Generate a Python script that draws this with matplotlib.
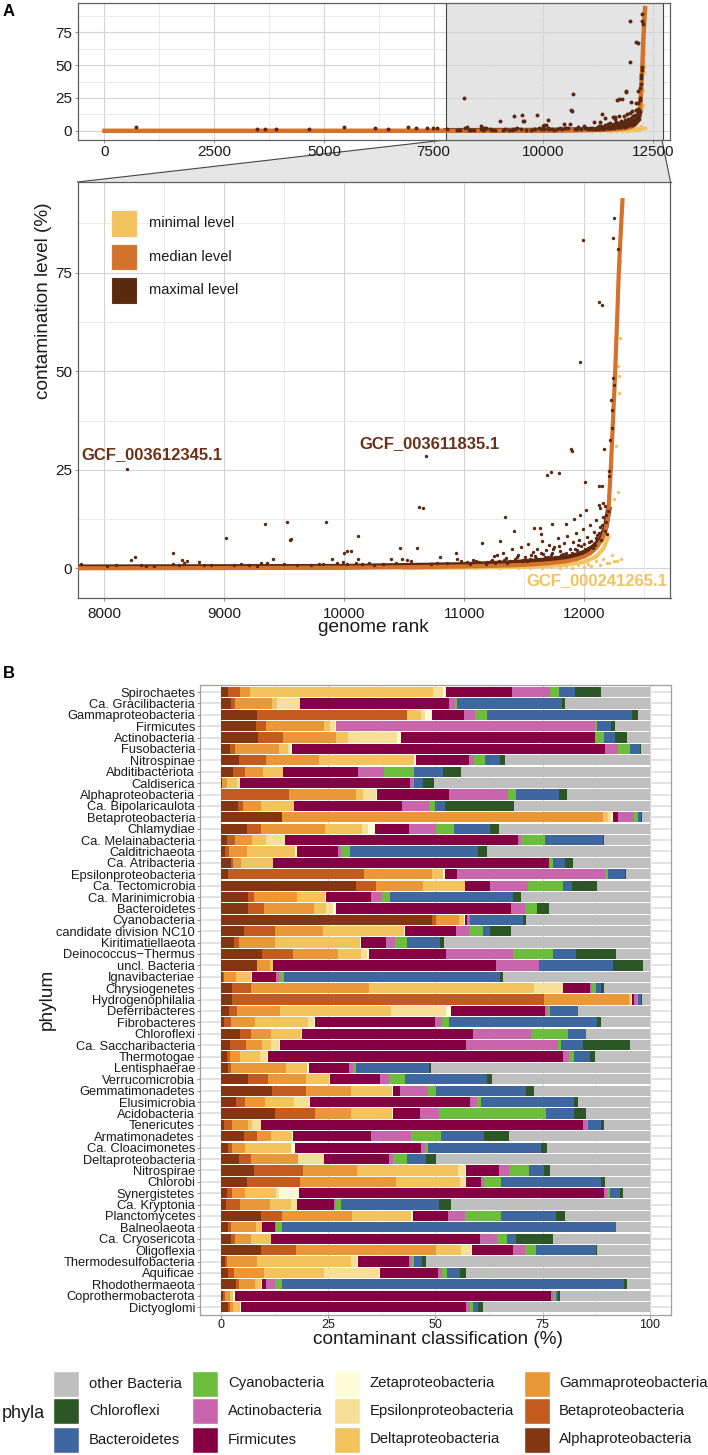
import numpy as np
import matplotlib
matplotlib.use("Agg")
import matplotlib.pyplot as plt
from matplotlib.patches import Rectangle, Polygon
from matplotlib.ticker import MultipleLocator

plt.rcParams['font.family'] = ['Liberation Sans', 'DejaVu Sans']

# ---------------- Panel A data ----------------
median_rank = [0, 5000, 8000, 9000, 10000, 10500, 11000, 11300, 11500, 11700, 11850,
               11950, 12000, 12050, 12100, 12150, 12180, 12200, 12222, 12240, 12259,
               12275, 12289, 12305, 12320]
median_val = [0.0, 0.02, 0.05, 0.1, 0.2, 0.3, 0.5, 0.7, 0.9, 1.3, 1.8,
              2.5, 3.0, 3.8, 5.2, 7.3, 9.8, 13.2, 25, 37, 50,
              63, 75, 85, 93.4]

# lower envelope of the dense maximal-level points
maxband_rank = [7780, 10000, 11000, 11400, 11700, 11900, 12000, 12080, 12140, 12180, 12205]
maxband_val = [0.3, 0.45, 0.9, 1.4, 2.1, 3.0, 4.0, 5.5, 7.5, 10.5, 15.0]
# upper envelope of the dense minimal-level points
minband_rank = [10500, 11000, 11500, 11800, 12000, 12100, 12160, 12200]
minband_val = [0.1, 0.2, 0.4, 0.8, 1.6, 3.0, 5.0, 8.0]

max_rank = [720, 3477, 3650, 3908, 4659, 5452, 6172, 6460, 6922, 7098, 7355, 7478, 7581,
            7806, 8028, 8097, 8189, 8228, 8256, 8306, 8347, 8417, 8570, 8575, 8625, 8650,
            8667, 8694, 8792, 8833, 8889, 9017, 9083, 9139, 9208, 9278, 9311, 9339, 9356,
            9406, 9495, 9522, 9547, 9555, 9611, 9722, 9792, 9820, 9850, 9903, 9944, 9992,
            9995, 10022, 10028, 10056, 10097, 10117, 10119, 10153, 10208, 10250, 10320,
            10389, 10431, 10467, 10486, 10528, 10561, 10606, 10628, 10661, 10681, 10722,
            10778, 10800, 10861, 10936, 10944, 10972, 11028, 11070, 11103, 11153, 11194,
            11236, 11278,
            11250, 11290, 11303, 11320, 11337, 11350, 11380, 11400, 11416, 11420, 11450,
            11470, 11490, 11510, 11530, 11550, 11570, 11586, 11590, 11610, 11620, 11631,
            11639, 11650, 11660, 11680, 11688, 11700, 11710, 11725, 11730, 11733, 11750,
            11760, 11780, 11789, 11800, 11810, 11830, 11845, 11850, 11860, 11880, 11887,
            11895, 11900, 11910, 11913, 11930, 11940, 11960, 11966, 11966, 11970, 11988,
            11990, 12000, 12007, 12018, 12020, 12030, 12050, 12060, 12080, 12090, 12100,
            12110, 12120, 12120, 12120, 12130, 12135, 12140, 12150, 12150, 12158, 12160,
            12165, 12170, 12176, 12180, 12190, 12200, 12205, 12206, 12214, 12222, 12233,
            12234, 12240, 12244, 12251, 12252, 12282,
            11050, 11120, 11180, 11220, 11260, 11330, 11360, 11440, 11480, 11520, 11560,
            11600, 11640, 11670, 11720, 11740, 11770, 11790, 11820, 11870, 11920, 11950,
            11980, 12010, 12040, 12070, 12095, 12125, 12145, 12185]
max_val = [2.6, 1.0, 1.2, 1.1, 1.2, 3.0, 1.8, 1.2, 3.0, 2.0, 2.2, 2.4, 2.3,
           1.0, 0.7, 0.8, 25.2, 2.1, 3.0, 0.85, 0.7, 0.7, 1.1, 3.8, 0.85, 2.1,
           1.3, 1.9, 1.7, 0.8, 0.8, 7.6, 0.85, 1.2, 0.9, 0.7, 1.5, 11.3, 1.3,
           2.3, 1.1, 11.7, 7.3, 7.5, 0.8, 0.8, 1.2, 1.0, 11.9, 2.5, 1.3, 1.7,
           3.9, 4.4, 1.2, 4.4, 1.4, 8.3, 2.5, 1.0, 1.3, 0.85, 1.0,
           2.5, 1.3, 5.1, 2.5, 2.1, 1.9, 5.2, 15.7, 15.2, 28.4, 1.0,
           1.4, 3.0, 1.3, 3.8, 2.3, 1.9, 1.7, 2.1, 1.9, 6.5, 1.7,
           2.1, 3.4,
           3.2, 2.0, 7.0, 4.0, 13.0, 2.6, 1.8, 4.8, 9.4, 2.3, 3.4,
           5.5, 2.1, 3.0, 6.3, 2.5, 4.2, 10.3, 3.1, 5.0, 2.4, 10.3,
           8.7, 7.0, 3.6, 4.6, 23.6, 2.8, 6.0, 24.4, 3.9, 11.3, 5.4,
           3.0, 7.6, 24.1, 4.3, 3.3, 6.5, 11.3, 4.0, 8.2, 5.0, 30.3,
           29.7, 3.8, 6.8, 12.5, 9.0, 4.6, 7.3, 13.6, 52.3, 5.6, 83.3,
           10.1, 6.2, 21.9, 14.7, 8.0, 4.8, 11.0, 7.0, 9.3, 6.0, 12.2,
           8.4, 67.6, 21.0, 16.2, 10.4, 15.4, 7.3, 66.7, 21.0, 16.7, 13.0,
           30.2, 9.6, 15.9, 11.8, 8.8, 14.5, 23.4, 24.6, 32.5, 42.6, 40.2,
           35.7, 83.7, 48.4, 46.6, 88.8, 81.0,
           1.2, 1.6, 1.0, 1.8, 1.3, 2.2, 1.5, 2.8, 1.9, 2.0, 3.4,
           2.7, 4.0, 2.9, 3.5, 4.8, 2.6, 5.6, 3.6, 3.2, 4.9, 6.0,
           4.2, 5.0, 6.6, 5.3, 7.8, 9.0, 11.0, 13.5]

min_rank = [11100, 11300, 11450, 11550, 11650, 11720, 11800, 11850, 11900, 11950, 12000,
            12030, 12060, 12100, 12130, 12160, 12190, 12207, 12230, 12250, 12270, 12308,
            12252, 12282, 12262, 12290, 12290, 12282, 12297, 12297, 12308]
min_val = [0.1, 0.0, 0.2, 0.0, 0.1, 0.3, 0.0, 0.5, 0.2, 0.8, 0.4,
           1.2, 0.6, 1.8, 0.9, 2.5, 1.4, 1.5, 3.5, 1.8, 2.0, 2.4,
           17.7, 19.4, 31.0, 44.4, 48.8, 51.3, 58.5, 78.0, 85.0]

genome_labels = ['GCF_003612345.1', 'GCF_003611835.1', 'GCF_000241265.1']
label_rank = [8400, 10709, 12105]
label_val = [28.9, 31.6, -3.1]

# ---------------- Panel B data ----------------
phyla = ['Spirochaetes', 'Ca. Gracilibacteria', 'Gammaproteobacteria', 'Firmicutes',
         'Actinobacteria', 'Fusobacteria', 'Nitrospinae', 'Abditibacteriota', 'Caldiserica',
         'Alphaproteobacteria', 'Ca. Bipolaricaulota', 'Betaproteobacteria', 'Chlamydiae',
         'Ca. Melainabacteria', 'Calditrichaeota', 'Ca. Atribacteria', 'Epsilonproteobacteria',
         'Ca. Tectomicrobia', 'Ca. Marinimicrobia', 'Bacteroidetes', 'Cyanobacteria',
         'candidate division NC10', 'Kiritimatiellaeota', 'Deinococcus\u2212Thermus',
         'uncl. Bacteria', 'Ignavibacteriae', 'Chrysiogenetes', 'Hydrogenophilalia',
         'Deferribacteres', 'Fibrobacteres', 'Chloroflexi', 'Ca. Saccharibacteria',
         'Thermotogae', 'Lentisphaerae', 'Verrucomicrobia', 'Gemmatimonadetes',
         'Elusimicrobia', 'Acidobacteria', 'Tenericutes', 'Armatimonadetes',
         'Ca. Cloacimonetes', 'Deltaproteobacteria', 'Nitrospirae', 'Chlorobi',
         'Synergistetes', 'Ca. Kryptonia', 'Planctomycetes', 'Balneolaeota',
         'Ca. Cryosericota', 'Oligoflexia', 'Thermodesulfobacteria', 'Aquificae',
         'Rhodothermaeota', 'Coprothermobacterota', 'Dictyoglomi']

classes = ['Alphaproteobacteria', 'Betaproteobacteria', 'Gammaproteobacteria',
           'Deltaproteobacteria', 'Epsilonproteobacteria', 'Zetaproteobacteria',
           'Firmicutes', 'Actinobacteria', 'Cyanobacteria', 'Bacteroidetes',
           'Chloroflexi', 'other Bacteria']
class_colors = ['#843511', '#c25b1d', '#ea9738', '#f3c35e', '#f7df97', '#fffcd5',
                '#840043', '#c965ac', '#6cbd3c', '#3f679f', '#2d5626', '#bfbfbf']

# cumulative share (%) at the right end of each class segment, per phylum (top to bottom)
edge_alpha = [1.7, 2.3, 8.4, 8.2, 8.6, 2.1, 4.2, 2.7, 0.3, 0, 4.0, 14.1, 6.1, 1.3, 0.9, 2.4,
              1.6, 31.5, 6.2, 6.3, 49.1, 5.4, 3.0, 9.6, 8.3, 0.4, 2.5, 2.5, 1.9, 0.8, 4.5,
              2.0, 1.3, 1.6, 6.2, 11.9, 3.6, 12.6, 0.6, 5.3, 1.6, 4.1, 7.6, 6.0, 1.4, 1.2,
              9.4, 1.7, 2.4, 9.4, 0.9, 1.7, 3.5, 0.5, 1.7]
edge_beta = [4.4, 3.3, 43.3, 10.5, 14.5, 3.3, 10.4, 5.7, 0.3, 15.9, 5.2, 14.1, 9.4, 3.3,
             1.8, 2.9, 33.4, 36.1, 7.6, 9.9, 50.2, 12.5, 4.1, 16.7, 8.3, 0.8, 7.0, 75.3,
             3.8, 2.3, 6.9, 5.8, 2.2, 2.4, 11.0, 19.7, 5.5, 22.0, 2.5, 8.3, 2.6, 6.9,
             19.1, 18.4, 2.6, 4.5, 14.1, 2.4, 3.3, 17.4, 1.5, 3.0, 4.3, 0.9, 2.0]
edge_gamma = [6.7, 11.8, 43.3, 24.0, 26.8, 13.6, 22.9, 9.8, 1.5, 31.4, 9.4, 89.0, 24.2,
              7.2, 6.1, 4.6, 49.1, 47.1, 17.8, 21.6, 55.5, 23.8, 12.5, 27.2, 11.5, 3.5,
              34.5, 95.0, 13.8, 7.8, 11.7, 9.6, 4.5, 15.2, 19.8, 30.2, 10.3, 30.3, 6.4,
              11.7, 5.7, 18.0, 31.8, 40.8, 5.7, 11.4, 30.6, 8.2, 7.0, 50.2, 8.3, 10.1,
              8.0, 2.1, 2.8]
edge_delta = [49.5, 13.1, 46.7, 25.4, 29.7, 15.6, 45.1, 14.4, 3.7, 33.1, 17.0, 90.3, 32.8,
              10.5, 17.2, 12.2, 51.7, 56.9, 24.3, 24.5, 56.6, 42.7, 32.4, 32.7, 12.0, 6.9,
              72.9, 95.6, 39.6, 20.2, 18.6, 11.7, 9.1, 20.1, 25.1, 39.9, 17.0, 39.9, 7.2,
              16.6, 16.2, 18.0, 55.2, 55.7, 12.8, 16.2, 44.2, 9.5, 11.6, 56.0, 30.2, 24.1,
              9.3, 2.8, 4.5]
edge_eps = [51.8, 18.4, 47.6, 26.5, 41.0, 16.1, 45.1, 14.4, 4.5, 36.2, 17.0, 90.9, 34.3,
            14.8, 17.2, 12.2, 51.7, 56.9, 24.3, 26.1, 56.6, 42.7, 32.4, 34.0, 12.0, 6.9,
            79.7, 95.6, 52.5, 21.6, 18.6, 13.5, 10.8, 20.1, 25.1, 39.9, 20.5, 39.9, 9.3,
            16.6, 16.2, 23.9, 56.9, 56.9, 13.5, 17.6, 44.2, 9.5, 11.6, 58.3, 31.7, 36.9,
            9.3, 2.8, 4.5]
edge_zeta = [52.5, 18.4, 49.2, 26.9, 41.9, 16.5, 45.4, 14.4, 4.5, 36.4, 17.0, 91.3, 36.0,
             14.9, 17.7, 12.2, 52.2, 56.9, 24.4, 26.9, 56.8, 42.9, 32.6, 34.4, 12.1, 7.2,
             79.8, 95.8, 53.5, 22.0, 18.8, 13.7, 11.0, 20.5, 25.4, 40.0, 20.8, 40.0, 9.4,
             16.7, 17.2, 24.1, 57.2, 57.1, 18.1, 17.6, 44.7, 9.6, 11.7, 58.6, 31.9, 37.1,
             9.6, 3.2, 4.7]
edge_firm = [67.9, 53.1, 56.7, 26.9, 87.2, 89.6, 57.8, 31.9, 44.1, 53.1, 42.2, 92.5, 43.8,
             69.2, 27.2, 76.4, 55.1, 62.8, 35.0, 67.5, 57.3, 54.7, 38.5, 52.4, 64.0, 12.8,
             86.0, 96.3, 75.6, 49.8, 58.8, 57.1, 79.8, 29.9, 37.1, 41.7, 58.0, 46.3, 84.4,
             34.9, 46.6, 39.1, 64.8, 60.6, 89.2, 26.4, 53.0, 12.5, 60.4, 68.0, 43.8, 50.6,
             10.4, 77.0, 57.2]
edge_actino = [76.6, 54.6, 59.2, 87.1, 87.2, 92.5, 58.9, 38.0, 44.9, 67.0, 48.5, 96.3, 50.1,
               70.0, 28.0, 76.4, 89.5, 71.5, 37.5, 70.9, 58.1, 57.7, 40.6, 68.1, 74.1, 13.4,
               86.6, 97.0, 76.3, 51.4, 72.3, 78.5, 81.2, 30.8, 39.1, 48.3, 59.6, 50.8, 85.3,
               44.3, 47.6, 40.1, 67.1, 61.3, 90.1, 26.8, 56.9, 12.9, 64.4, 70.8, 44.3, 51.6,
               12.5, 77.7, 58.0]
edge_cyano = [78.7, 54.9, 62.0, 87.7, 89.2, 95.4, 61.5, 44.9, 45.1, 68.8, 49.8, 97.2, 54.3,
              75.5, 30.0, 77.4, 90.3, 79.7, 39.5, 73.7, 58.1, 61.1, 43.4, 77.4, 74.2, 14.6,
              87.4, 97.2, 76.6, 53.2, 81.0, 79.2, 82.3, 31.5, 42.9, 50.2, 60.7, 75.7, 85.6,
              51.3, 48.3, 43.4, 71.8, 65.3, 90.6, 28.0, 65.3, 14.2, 66.6, 73.5, 45.1, 52.7,
              14.2, 78.1, 58.7]
edge_bact = [82.6, 79.5, 95.8, 91.0, 91.8, 97.7, 65.1, 51.8, 47.0, 78.8, 52.3, 97.9, 62.6,
             89.0, 59.9, 80.2, 94.1, 81.9, 68.0, 73.7, 70.3, 62.7, 51.0, 82.8, 91.3, 65.1,
             88.7, 97.8, 83.2, 87.7, 85.1, 84.5, 86.0, 48.5, 62.0, 71.0, 82.4, 82.3, 88.7,
             61.4, 74.7, 47.9, 75.2, 88.5, 93.0, 50.8, 78.0, 92.0, 68.7, 87.4, 46.9, 55.8,
             93.9, 78.5, 59.9]
edge_chlor = [88.7, 80.1, 97.2, 91.8, 94.6, 97.9, 66.2, 55.9, 49.6, 80.7, 68.2, 98.1, 64.8,
              89.4, 61.9, 82.1, 94.3, 87.7, 70.0, 76.4, 71.0, 67.7, 51.9, 92.0, 98.4, 65.7,
              89.3, 98.1, 83.2, 88.5, 85.1, 95.3, 87.3, 48.9, 63.2, 72.9, 83.2, 85.2, 89.3,
              67.2, 76.1, 50.1, 76.8, 89.6, 93.7, 53.6, 80.3, 92.2, 77.3, 87.7, 47.7, 57.1,
              94.6, 79.0, 61.1]
edge_other = [100.0] * len(phyla)

legend_order = ['other Bacteria', 'Chloroflexi', 'Bacteroidetes',
                'Cyanobacteria', 'Actinobacteria', 'Firmicutes',
                'Zetaproteobacteria', 'Epsilonproteobacteria', 'Deltaproteobacteria',
                'Gammaproteobacteria', 'Betaproteobacteria', 'Alphaproteobacteria']

level_names = ['minimal level', 'median level', 'maximal level']
level_colors = ['#f2c35f', '#d4712a', '#5b2910']

# ---------------- figure ----------------
W, H = 708, 1455
fig = plt.figure(figsize=(W / 100, H / 100), dpi=100)
TXT = '#1a1a1a'


def box(l, t, r, b):
    return [l / W, 1 - b / H, (r - l) / W, (b - t) / H]


def style_axes(ax, spine_col, labelsize):
    ax.set_facecolor('white')
    for s in ax.spines.values():
        s.set_color(spine_col)
        s.set_linewidth(0.9)
    ax.set_axisbelow(True)
    ax.grid(which='major', color='#d4d4d4', linewidth=0.8)
    ax.grid(which='minor', color='#e6e6e6', linewidth=0.6)
    ax.tick_params(which='major', length=2.2, width=0.6, color='#7f7f7f',
                   labelsize=labelsize, labelcolor=TXT)
    ax.tick_params(which='minor', length=0)


ZOOM_X = (7780, 12720)

# background layer (zoom connector) drawn behind everything
bg = fig.add_axes([0, 0, 1, 1], facecolor='none')
bg.set_xlim(0, W)
bg.set_ylim(H, 0)
bg.axis('off')
zl, zr = 444.8, 662.0
bg.add_patch(Polygon([(zl, 140), (zr, 140), (670.5, 182), (77.7, 182)], closed=True,
                     facecolor='#e6e6e6', edgecolor='none', zorder=1))
bg.plot([zl, 77.7], [140, 182], color='#444444', lw=0.8, zorder=2)
bg.plot([zr, 670.5], [140, 182], color='#444444', lw=0.8, zorder=2)

# top overview panel
ax1 = fig.add_axes(box(77.7, 3, 670.5, 140))
style_axes(ax1, '#5f5f5f', 11)
ax1.set_xlim(-610, 12900)
ax1.set_ylim(-7, 97.3)
ax1.xaxis.set_major_locator(MultipleLocator(2500))
ax1.xaxis.set_minor_locator(MultipleLocator(1250))
ax1.set_yticks([0, 25, 50, 75])
ax1.yaxis.set_minor_locator(MultipleLocator(12.5))
ax1.tick_params(axis='x', pad=1.5)
ax1.tick_params(axis='y', pad=1.8)
ax1.axvspan(*ZOOM_X, facecolor='#e4e4e4', zorder=0.3)
for xv in ZOOM_X:
    ax1.axvline(xv, color='#444444', lw=0.8, zorder=1)
ax1.plot(maxband_rank, maxband_val, color=level_colors[2], lw=3.5, zorder=2)
ax1.scatter(min_rank, min_val, s=7, color=level_colors[0], linewidths=0, zorder=3)
ax1.plot(median_rank, median_val, color=level_colors[1], lw=3.2, zorder=4)
ax1.scatter(max_rank, max_val, s=8, color=level_colors[2], linewidths=0, zorder=5)

# zoomed main panel
ax2 = fig.add_axes(box(77.7, 182, 670.5, 598))
style_axes(ax2, '#5f5f5f', 11)
ax2.set_xlim(*ZOOM_X)
ax2.set_ylim(-7.5, 98)
ax2.set_xticks([8000, 9000, 10000, 11000, 12000])
ax2.xaxis.set_minor_locator(MultipleLocator(500))
ax2.set_yticks([0, 25, 50, 75])
ax2.yaxis.set_minor_locator(MultipleLocator(12.5))
ax2.tick_params(axis='x', pad=4.5)
ax2.tick_params(axis='y', pad=1.8)
ax2.plot(minband_rank, minband_val, color=level_colors[0], lw=3, zorder=2)
ax2.plot(maxband_rank, maxband_val, color=level_colors[2], lw=4, zorder=2)
ax2.scatter(min_rank, min_val, s=6, color=level_colors[0], linewidths=0, zorder=3)
ax2.plot(median_rank, median_val, color=level_colors[1], lw=3, zorder=4)
ax2.scatter(max_rank, max_val, s=6, color=level_colors[2], linewidths=0, zorder=5)
label_cols = ['#6b3015', '#6b3015', level_colors[0]]
for t, xr, yv, c in zip(genome_labels, label_rank, label_val, label_cols):
    ax2.text(xr, yv, t, color=c, fontsize=12, fontweight='bold', ha='center', va='center',
             zorder=6)

# panel B stacked bars
ax3 = fig.add_axes(box(199.6, 684.6, 671.4, 1314.5))
style_axes(ax3, '#a0a0a0', 9)
edges = [edge_alpha, edge_beta, edge_gamma, edge_delta, edge_eps, edge_zeta, edge_firm,
         edge_actino, edge_cyano, edge_bact, edge_chlor, edge_other]
ypos = np.arange(len(phyla))
left = np.zeros(len(phyla))
for e, c in zip(edges, class_colors):
    e = np.asarray(e, dtype=float)
    ax3.barh(ypos, e - left, left=left, height=0.9, color=c, linewidth=0, zorder=2)
    left = e
ax3.set_xlim(-5, 105)
ax3.set_ylim(len(phyla) - 1 + 0.65, -0.65)
ax3.set_yticks(ypos)
ax3.set_yticklabels(phyla)
ax3.set_xticks([0, 25, 50, 75, 100])
ax3.xaxis.set_minor_locator(MultipleLocator(12.5))
ax3.grid(which='major', axis='y', color='#e3e3e3', linewidth=1.4)
ax3.tick_params(axis='y', pad=1.0, labelsize=9.3)
ax3.tick_params(axis='x', pad=0.8, labelsize=9)

# overlay for titles and legends
ov = fig.add_axes([0, 0, 1, 1], facecolor='none')
ov.set_xlim(0, W)
ov.set_ylim(H, 0)
ov.axis('off')

ov.text(3, 11, 'A', fontsize=12, fontweight='bold', ha='left', va='center', color='black')
ov.text(3, 673.5, 'B', fontsize=12, fontweight='bold', ha='left', va='center', color='black')

ov.text(44, 300.8, 'contamination level (%)', rotation=90, fontsize=13.7, ha='center',
        va='center', color=TXT)
ov.text(373.6, 627, 'genome rank', fontsize=13.7, ha='center', va='center', color=TXT)
ov.text(47, 999, 'phylum', rotation=90, fontsize=13.7, ha='center', va='center', color=TXT)
ov.text(437.5, 1340, 'contaminant classification (%)', fontsize=13.7, ha='center',
        va='center', color=TXT)

# panel A legend
for i, (name, col) in enumerate(zip(level_names, level_colors)):
    top = 210 + i * 33.5
    ov.add_patch(Rectangle((111.3, top), 26, 26.5, facecolor=col, edgecolor='#f4f4f4',
                           lw=0.8, zorder=3))
    ov.text(148.7, top + 13.3, name, fontsize=10.5, ha='left', va='center', color=TXT)

# panel B legend
ov.text(2, 1414, 'phyla', fontsize=13, ha='left', va='center', color=TXT)
key_x = [52.8, 192.4, 334.1, 523.8]
lab_x = [89.0, 228.0, 369.4, 559.0]
row_top = [1370.5, 1398.3, 1426.5]
col_of = dict(zip(classes, class_colors))
for k, name in enumerate(legend_order):
    ci, ri = divmod(k, 3)
    ov.add_patch(Rectangle((key_x[ci], row_top[ri]), 26, 26, facecolor=col_of[name],
                           edgecolor='white', lw=1.0, zorder=3))
    ov.text(lab_x[ci], row_top[ri] + 13, name, fontsize=10.7, ha='left', va='center',
            color=TXT)

fig.savefig('out.png', dpi=100)
